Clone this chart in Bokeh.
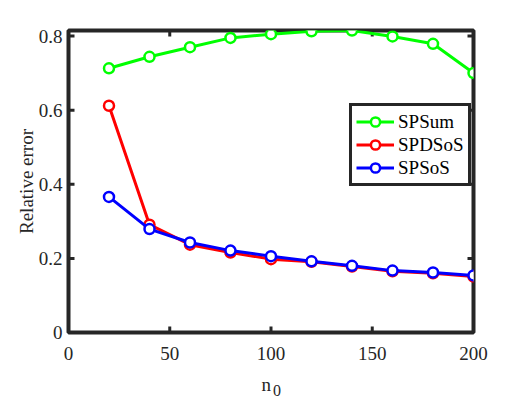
import math
from bokeh.plotting import figure
from bokeh.models import Range1d, LinearAxis, Legend, LegendItem, FixedTicker
from bokeh.embed import file_html
from bokeh.resources import INLINE

n0 = [20, 40, 60, 80, 100, 120, 140, 160, 180, 200]
spsum = [0.713, 0.744, 0.770, 0.795, 0.805, 0.813, 0.815, 0.799, 0.779, 0.700]
spdsos = [0.612, 0.291, 0.237, 0.216, 0.198, 0.191, 0.178, 0.165, 0.160, 0.151]
spsos = [0.366, 0.279, 0.243, 0.221, 0.206, 0.192, 0.180, 0.167, 0.162, 0.154]
x_ticks = [0, 50, 100, 150, 200]
y_ticks = [0, 0.2, 0.4, 0.6, 0.8]
x_lim = (0, 200)
y_lim = (0, 0.815)

FONT = "Liberation Serif"
AX = "#262626"
NB = "\u00a0"

p = figure(width=532, height=399, output_backend="svg", toolbar_location=None,
           x_range=Range1d(*x_lim), y_range=Range1d(*y_lim),
           x_axis_location=None, y_axis_location=None,
           min_border_left=68, min_border_right=59, min_border_top=30, min_border_bottom=67,
           background_fill_color=None, border_fill_color=None)
p.frame_width = 405
p.frame_height = 302
p.grid.visible = False
p.outline_line_color = AX
p.outline_line_width = 4
p.outline_line_alpha = 1.0

def mk_axis(loc, ticks, show_labels):
    ax = LinearAxis(ticker=FixedTicker(ticks=ticks),
                    axis_line_color=None,
                    major_tick_line_color=None,
                    minor_tick_line_color=None,
                    major_label_text_font=FONT, major_label_text_font_size="19px",
                    major_label_text_color=AX)
    if not show_labels:
        ax.major_label_text_alpha = 0
    p.add_layout(ax, loc)
    return ax

bx = mk_axis("below", x_ticks, True)
bx.major_label_standoff = 8
bx.axis_label = "n" + NB + NB
bx.axis_label_text_font = FONT
bx.axis_label_text_font_size = "19px"
bx.axis_label_text_font_style = "normal"
bx.axis_label_text_color = AX
bx.axis_label_standoff = 11

sub = LinearAxis(ticker=FixedTicker(ticks=[]), axis_line_color=None,
                 major_tick_line_color=None, minor_tick_line_color=None,
                 major_label_text_alpha=0, major_label_text_font_size="1px",
                 axis_label=NB + NB + NB + "0", axis_label_text_font=FONT,
                 axis_label_text_font_size="16px", axis_label_text_font_style="normal",
                 axis_label_text_color=AX, axis_label_standoff=-16)
p.add_layout(sub, "below")

ly = mk_axis("left", y_ticks, True)
ly.major_tick_out = 0
ly.major_tick_in = 0
ly.major_label_standoff = 6
ly.axis_label = "Relative error"
ly.axis_label_text_font = FONT
ly.axis_label_text_font_size = "19px"
ly.axis_label_text_font_style = "normal"
ly.axis_label_text_color = AX
ly.axis_label_standoff = -1
mk_axis("above", x_ticks, False)
mk_axis("right", y_ticks, False)

# inward tick marks (clipped to the frame, so only the inner half shows)
for ys in (y_lim[0], y_lim[1]):
    p.scatter(x_ticks, [ys] * len(x_ticks), marker="dash", angle=math.pi / 2, size=12,
              line_color=AX, line_width=3)
for xs in (x_lim[0], x_lim[1]):
    p.scatter([xs] * len(y_ticks), y_ticks, marker="dash", size=12,
              line_color=AX, line_width=3)

series = [("SPSum", spsum, "#00ff00"), ("SPDSoS", spdsos, "#ff0000"), ("SPSoS", spsos, "#0000ff")]
items = []
for name, ys, col in series:
    l = p.line(n0, ys, line_color=col, line_width=3)
    s = p.scatter(n0, ys, size=10, marker="circle", line_color=col, line_width=2.5, fill_color="white")
    items.append(LegendItem(label=name, renderers=[l, s]))

leg = Legend(items=items, location=(281, 146),
             label_text_font=FONT, label_text_font_size="19px", label_text_color="black",
             border_line_color=AX, border_line_width=3, border_line_alpha=1.0,
             background_fill_color="white", background_fill_alpha=1.0,
             glyph_width=38, glyph_height=23, label_height=23, label_standoff=4,
             spacing=0, padding=4, margin=0)
p.add_layout(leg, "center")

open("out.html", "w").write(file_html(p, INLINE))
